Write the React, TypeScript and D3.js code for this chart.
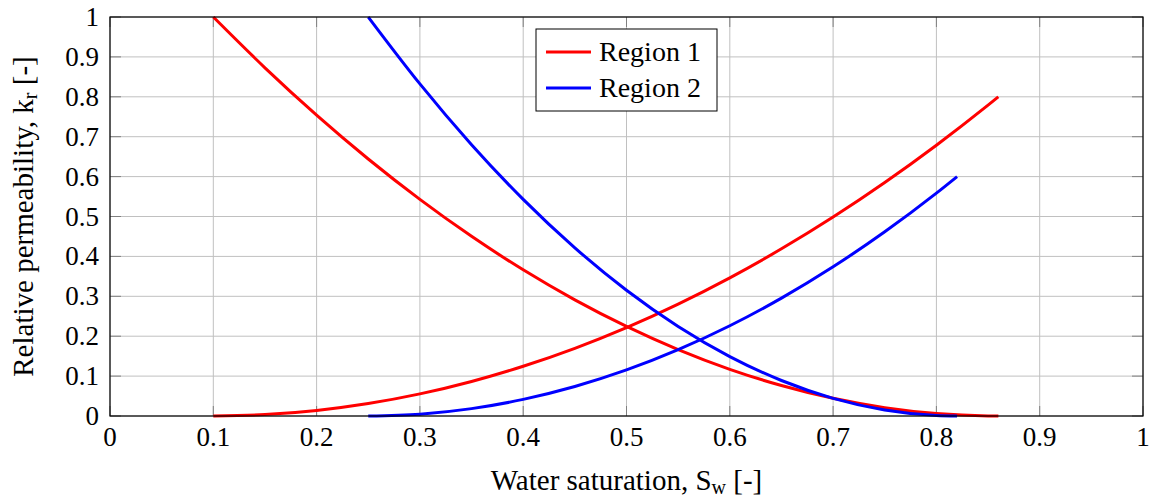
import React from "react";
import * as d3 from "d3";

const region1Sw = [0.1, 0.15, 0.2, 0.25, 0.3, 0.35, 0.4, 0.45, 0.5, 0.55, 0.6, 0.65, 0.7, 0.75, 0.8, 0.85, 0.86];
const region1Krw = [0, 0.0035, 0.0139, 0.0312, 0.0554, 0.0866, 0.1247, 0.1697, 0.2216, 0.2805, 0.3463, 0.419, 0.4986, 0.5852, 0.6787, 0.7791, 0.8];
const region1Kro = [1, 0.8727, 0.7541, 0.6442, 0.5429, 0.4503, 0.3663, 0.291, 0.2244, 0.1664, 0.117, 0.0764, 0.0443, 0.0209, 0.0062, 0.0002, 0];

const region2Sw = [0.25, 0.3, 0.35, 0.4, 0.45, 0.5, 0.55, 0.6, 0.65, 0.7, 0.75, 0.8, 0.82];
const region2Krw = [0, 0.0046, 0.0185, 0.0416, 0.0739, 0.1154, 0.1662, 0.2262, 0.2955, 0.374, 0.4617, 0.5586, 0.6];
const region2Kro = [1, 0.8323, 0.6799, 0.5429, 0.4214, 0.3152, 0.2244, 0.149, 0.089, 0.0443, 0.0151, 0.0012, 0];

const xTicks = [0, 0.1, 0.2, 0.3, 0.4, 0.5, 0.6, 0.7, 0.8, 0.9, 1];
const yTicks = [0, 0.1, 0.2, 0.3, 0.4, 0.5, 0.6, 0.7, 0.8, 0.9, 1];
const seriesNames = ["Region 1", "Region 2"];
const seriesColors = ["#ff0000", "#0000ff"];

const W = 1153;
const H = 499;
const left = 110;
const right = 1143;
const top = 17;
const bottom = 416;
const ts = { fontFamily: "Times" };

export default function App() {
  const x = d3.scaleLinear().domain([0, 1]).range([left, right]);
  const y = d3.scaleLinear().domain([0, 1]).range([bottom, top]);
  const line = d3
    .line<[number, number]>()
    .x((d) => x(d[0]))
    .y((d) => y(d[1]))
    .curve(d3.curveMonotoneX);

  const series = [
    { color: seriesColors[0], pts: region1Sw.map((s, i) => [s, region1Krw[i]] as [number, number]) },
    { color: seriesColors[0], pts: region1Sw.map((s, i) => [s, region1Kro[i]] as [number, number]) },
    { color: seriesColors[1], pts: region2Sw.map((s, i) => [s, region2Krw[i]] as [number, number]) },
    { color: seriesColors[1], pts: region2Sw.map((s, i) => [s, region2Kro[i]] as [number, number]) },
  ];

  const fmt = (v: number) => (v === 0 || v === 1 ? String(v) : v.toFixed(1));

  return (
    <svg width={W} height={H} style={{ position: "absolute", left: 0, top: 0 }}>
      <defs>
        <clipPath id="plot">
          <rect x={left} y={top - 2} width={right - left + 2} height={bottom - top + 4} />
        </clipPath>
      </defs>
      {xTicks.map((t) => (
        <line key={"gx" + t} x1={x(t)} x2={x(t)} y1={top} y2={bottom} stroke="#c0c0c0" strokeWidth={1} />
      ))}
      {yTicks.map((t) => (
        <line key={"gy" + t} x1={left} x2={right} y1={y(t)} y2={y(t)} stroke="#c0c0c0" strokeWidth={1} />
      ))}
      {xTicks.map((t) => (
        <g key={"tx" + t}>
          <line x1={x(t)} x2={x(t)} y1={bottom} y2={bottom - 10} stroke="#808080" strokeWidth={1} />
          <line x1={x(t)} x2={x(t)} y1={top} y2={top + 10} stroke="#808080" strokeWidth={1} />
        </g>
      ))}
      {yTicks.map((t) => (
        <g key={"ty" + t}>
          <line x1={left} x2={left + 11} y1={y(t)} y2={y(t)} stroke="#808080" strokeWidth={1} />
          <line x1={right} x2={right - 11} y1={y(t)} y2={y(t)} stroke="#808080" strokeWidth={1} />
        </g>
      ))}
      <g clipPath="url(#plot)">
        {series.map((s, i) => (
          <path key={i} d={line(s.pts) || ""} fill="none" stroke={s.color} strokeWidth={3} />
        ))}
      </g>
      <rect x={left} y={top} width={right - left} height={bottom - top} fill="none" stroke="#000" strokeWidth={1.2} />
      {xTicks.map((t) => (
        <text key={"lx" + t} x={x(t)} y={446} fontSize={27} textAnchor="middle" style={ts}>
          {fmt(t)}
        </text>
      ))}
      {yTicks.map((t) => (
        <text key={"ly" + t} x={99} y={y(t) + 9} fontSize={27} textAnchor="end" style={ts}>
          {fmt(t)}
        </text>
      ))}
      <text x={(left + right) / 2} y={490} fontSize={29} textAnchor="middle" style={ts}>
        Water saturation, S
        <tspan fontSize={20} dy={4}>w</tspan>
        <tspan dy={-4}> [-]</tspan>
      </text>
      <text
        transform={`translate(33, ${(top + bottom) / 2}) rotate(-90)`}
        fontSize={29}
        textAnchor="middle"
        style={ts}
      >
        Relative permeability, k
        <tspan fontSize={20} dy={4}>r</tspan>
        <tspan dy={-4}> [-]</tspan>
      </text>
      <rect x={536} y={29} width={181} height={82} fill="#fff" stroke="#000" strokeWidth={1} />
      {seriesNames.map((n, i) => (
        <g key={n}>
          <line x1={546} x2={591} y1={52 + i * 36} y2={52 + i * 36} stroke={seriesColors[i]} strokeWidth={3} />
          <text x={599} y={61 + i * 36} fontSize={28} style={ts}>
            {n}
          </text>
        </g>
      ))}
    </svg>
  );
}
